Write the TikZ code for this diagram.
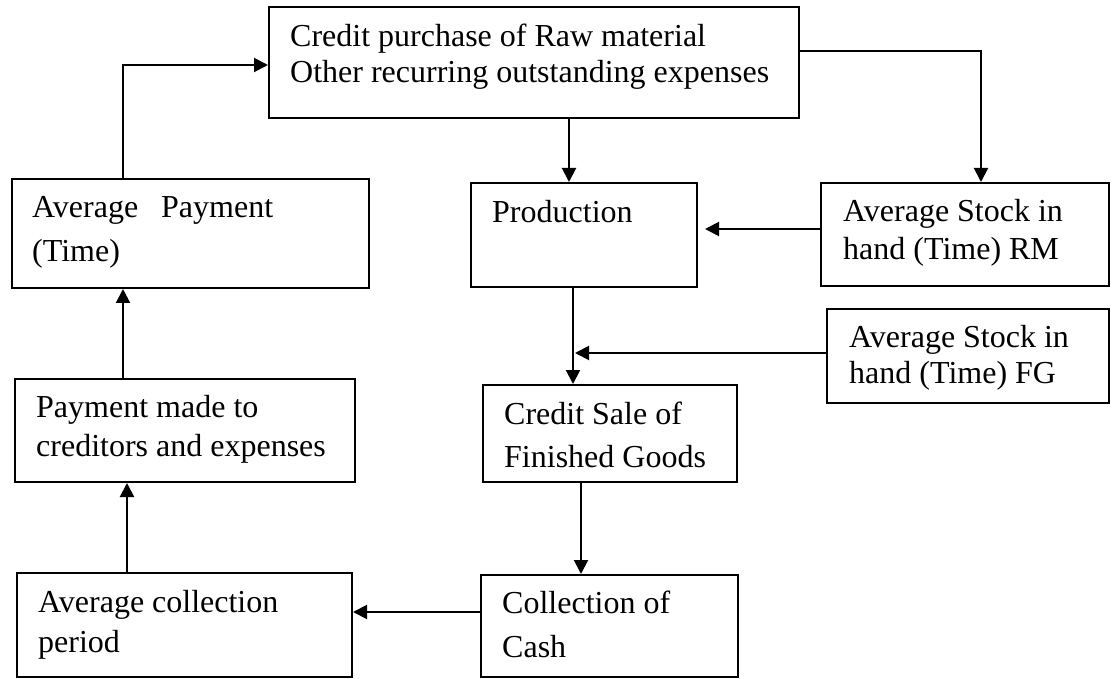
\documentclass[tikz,border=0pt]{standalone}
\usepackage{fontspec}
\setmainfont{Liberation Serif}
\usetikzlibrary{arrows.meta}
\tikzset{
  box/.style={draw, line width=2pt, inner sep=0pt, rectangle},
  txt/.style={anchor=base west, inner sep=0pt, font=\fontsize{32}{36}\selectfont},
  arr/.style={line width=2pt, -{Triangle[length=14pt,width=14pt]}}
}
\begin{document}
\begin{tikzpicture}[x=1pt,y=-1pt]
\useasboundingbox (0,0) rectangle (1112,679);
% boxes
\node[box, minimum width=530pt, minimum height=111pt] (top) at (534,62.5) {};
\node[box, minimum width=357pt, minimum height=109pt] (avgpay) at (190.5,233.5) {};
\node[box, minimum width=226pt, minimum height=104pt] (prod) at (584,235) {};
\node[box, minimum width=288pt, minimum height=103pt] (rm) at (965,234.5) {};
\node[box, minimum width=282pt, minimum height=94pt] (fg) at (968,356) {};
\node[box, minimum width=340pt, minimum height=103pt] (pay) at (185,430.5) {};
\node[box, minimum width=254pt, minimum height=97pt] (sale) at (610,433.5) {};
\node[box, minimum width=257pt, minimum height=102pt] (coll) at (609.5,626) {};
\node[box, minimum width=335pt, minimum height=104pt] (acp) at (184.5,625) {};
% texts
\node[txt] (topA) at (290,47) {Credit purchase of Raw material};
\node[txt] (topB) at (290,83) {Other recurring outstanding expenses};
\node[txt] (avgpayA) at (32,218) {Average\hspace{23pt}Payment};
\node[txt] (avgpayB) at (32,262) {(Time)};
\node[txt] (prodA) at (492,223) {Production};
\node[txt] (rmA) at (843,222) {Average Stock in};
\node[txt] (rmB) at (843,260) {hand (Time) RM};
\node[txt] (fgA) at (849,348) {Average Stock in};
\node[txt] (fgB) at (849,383) {hand (Time) FG};
\node[txt] (payA) at (36,417) {Payment made to};
\node[txt] (payB) at (36,456) {creditors and expenses};
\node[txt] (saleA) at (504,424) {Credit Sale of};
\node[txt] (saleB) at (504,467) {Finished Goods};
\node[txt] (collA) at (502,613) {Collection of};
\node[txt] (collB) at (502,657) {Cash};
\node[txt] (acpA) at (38,612) {Average collection};
\node[txt] (acpB) at (38,652) {period};
% connectors
\draw[arr] ([xshift=-67.5pt]avgpay.north) |- ([yshift=-2.5pt]top.west);
\draw[arr] ([xshift=35pt]top.south) -- ([xshift=-15pt]prod.north);
\draw[arr] ([yshift=11.5pt]top.east) -| ([xshift=16pt]rm.north);
\draw[arr] ([yshift=5.5pt]rm.west) -- ([yshift=6pt,xshift=7pt]prod.east);
\draw[arr] ([xshift=-11pt]prod.south) -- ([xshift=-37pt]sale.north);
\coordinate (j) at (575,353);
\draw[arr] ([yshift=3pt]fg.west) -- (j);
\draw[arr] ([xshift=-29pt]sale.south) -- ([xshift=-28.5pt]coll.north);
\draw[arr] ([yshift=14pt]coll.west) -- ([yshift=13pt]acp.east);
\draw[arr] ([xshift=-57.5pt]acp.north) -- ([xshift=-58pt]pay.south);
\draw[arr] ([xshift=-62pt]pay.north) -- ([xshift=-67.5pt]avgpay.south);
\end{tikzpicture}
\end{document}
